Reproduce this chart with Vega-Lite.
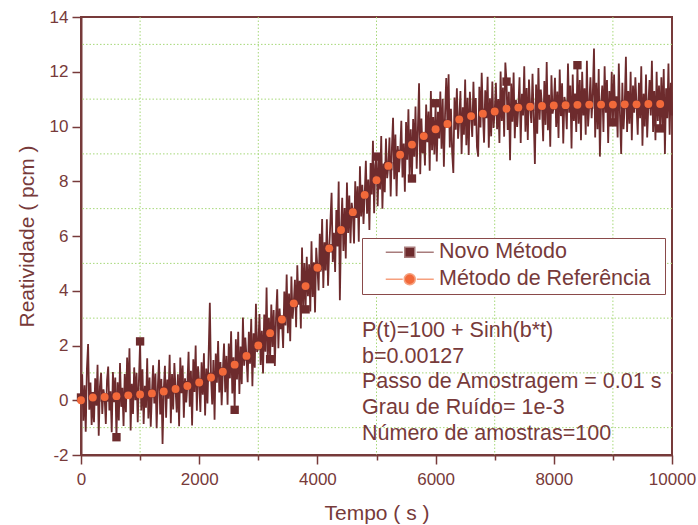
{
"$schema": "https://vega.github.io/schema/vega-lite/v6.json",
"width": 591, "height": 438,
"autosize": {"type": "none"},
"padding": {"left": 81, "top": 17, "right": 26, "bottom": 70},
"background": "white",
"config": {
  "font": "Liberation Sans",
  "view": {"stroke": "#773a3a", "strokeWidth": 2},
  "axis": {
    "domainColor": "#773a3a", "domainWidth": 2,
    "tickColor": "#773a3a", "tickWidth": 1.5,
    "labelColor": "#773a3a", "labelFontSize": 17, "labelFont": "Liberation Sans",
    "titleColor": "#773a3a", "titleFontSize": 21, "titleFontWeight": "normal", "titleFont": "Liberation Sans",
    "grid": false
  }
},
"datasets": {
"gx": [{"g":1000},{"g":3000},{"g":5000},{"g":7000},{"g":9000}],
"gy": [{"g":-1},{"g":1},{"g":3},{"g":5},{"g":7},{"g":9},{"g":11},{"g":13}],
"novo": [
{"t":0,"v":0.1},{"t":20,"v":0.95},{"t":40,"v":-0.75},{"t":60,"v":0.55},{"t":80,"v":-1.15},{"t":100,"v":1.15},{"t":120,"v":2.05},{"t":140,"v":-0.35},{"t":160,"v":0.65},{"t":180,"v":-0.9},
{"t":200,"v":0.15},{"t":220,"v":-0.8},{"t":240,"v":0.8},{"t":260,"v":-0.2},{"t":280,"v":1.3},{"t":300,"v":-1.3},{"t":320,"v":0.5},{"t":340,"v":1.0},{"t":360,"v":-0.5},{"t":380,"v":0.4},
{"t":400,"v":0.1},{"t":420,"v":-0.87},{"t":440,"v":0.73},{"t":460,"v":1.23},{"t":480,"v":-0.37},{"t":500,"v":0.33},{"t":520,"v":-1.17},{"t":540,"v":1.03},{"t":560,"v":-0.07},{"t":580,"v":0.83},
{"t":600,"v":-1.35},{"t":620,"v":0.66},{"t":640,"v":-0.74},{"t":660,"v":1.36},{"t":680,"v":-0.24},{"t":700,"v":0.46},{"t":720,"v":-0.94},{"t":740,"v":0.96},{"t":760,"v":-0.44},{"t":780,"v":1.56},
{"t":800,"v":0.2},{"t":820,"v":1.9},{"t":840,"v":-1.1},{"t":860,"v":0.6},{"t":880,"v":-0.5},{"t":900,"v":1.2},{"t":920,"v":0.0},{"t":940,"v":1.0},{"t":960,"v":-0.8},{"t":980,"v":0.7},
{"t":1000,"v":2.15},{"t":1020,"v":-0.37},{"t":1040,"v":1.13},{"t":1060,"v":-0.87},{"t":1080,"v":0.53},{"t":1100,"v":-0.27},{"t":1120,"v":1.53},{"t":1140,"v":-0.67},{"t":1160,"v":0.83},{"t":1180,"v":-0.97},
{"t":1200,"v":0.25},{"t":1220,"v":1.28},{"t":1240,"v":-0.12},{"t":1260,"v":0.98},{"t":1280,"v":-1.02},{"t":1300,"v":0.48},{"t":1320,"v":1.48},{"t":1340,"v":-0.52},{"t":1360,"v":0.78},{"t":1380,"v":-1.6},
{"t":1400,"v":0.35},{"t":1420,"v":1.26},{"t":1440,"v":-0.64},{"t":1460,"v":0.76},{"t":1480,"v":0.06},{"t":1500,"v":1.66},{"t":1520,"v":-0.84},{"t":1540,"v":0.96},{"t":1560,"v":-0.34},{"t":1580,"v":1.36},
{"t":1600,"v":0.4},{"t":1620,"v":-0.45},{"t":1640,"v":0.95},{"t":1660,"v":-0.95},{"t":1680,"v":1.56},{"t":1700,"v":0.26},{"t":1720,"v":1.27},{"t":1740,"v":-0.64},{"t":1760,"v":0.8},{"t":1780,"v":-0.08},
{"t":1800,"v":0.55},{"t":1820,"v":1.77},{"t":1840,"v":-0.24},{"t":1860,"v":1.08},{"t":1880,"v":-0.92},{"t":1900,"v":1.5},{"t":1920,"v":0.3},{"t":1940,"v":2.0},{"t":1960,"v":-0.38},{"t":1980,"v":1.24},
{"t":2000,"v":0.65},{"t":2020,"v":-0.43},{"t":2040,"v":1.39},{"t":2060,"v":0.2},{"t":2080,"v":1.72},{"t":2100,"v":-0.56},{"t":2120,"v":1.16},{"t":2140,"v":-0.12},{"t":2160,"v":1.69},{"t":2180,"v":3.56},
{"t":2200,"v":0.85},{"t":2220,"v":-0.15},{"t":2240,"v":1.47},{"t":2260,"v":-0.71},{"t":2280,"v":1.71},{"t":2300,"v":0.64},{"t":2320,"v":2.16},{"t":2340,"v":0.28},{"t":2360,"v":1.4},{"t":2380,"v":-0.18},
{"t":2400,"v":1.05},{"t":2420,"v":2.07},{"t":2440,"v":0.29},{"t":2460,"v":1.62},{"t":2480,"v":-0.16},{"t":2500,"v":2.07},{"t":2520,"v":0.8},{"t":2540,"v":2.52},{"t":2560,"v":0.25},{"t":2580,"v":1.57},
{"t":2600,"v":-0.35},{"t":2620,"v":2.23},{"t":2640,"v":0.76},{"t":2660,"v":2.5},{"t":2680,"v":0.23},{"t":2700,"v":1.96},{"t":2720,"v":0.59},{"t":2740,"v":3.02},{"t":2760,"v":1.26},{"t":2780,"v":2.29},
{"t":2800,"v":1.6},{"t":2820,"v":0.66},{"t":2840,"v":2.5},{"t":2860,"v":1.33},{"t":2880,"v":2.97},{"t":2900,"v":0.51},{"t":2920,"v":2.45},{"t":2940,"v":1.19},{"t":2960,"v":3.52},{"t":2980,"v":1.76},
{"t":3000,"v":2.0},{"t":3020,"v":3.15},{"t":3040,"v":1.29},{"t":3060,"v":2.54},{"t":3080,"v":0.98},{"t":3100,"v":3.13},{"t":3120,"v":1.77},{"t":3140,"v":4.12},{"t":3160,"v":1.36},{"t":3180,"v":3.01},
{"t":3200,"v":1.5},{"t":3220,"v":3.5},{"t":3240,"v":1.95},{"t":3260,"v":3.3},{"t":3280,"v":1.25},{"t":3300,"v":3.0},{"t":3320,"v":4.05},{"t":3340,"v":1.9},{"t":3360,"v":3.35},{"t":3380,"v":2.6},
{"t":3400,"v":2.95},{"t":3420,"v":1.91},{"t":3440,"v":3.97},{"t":3460,"v":2.73},{"t":3480,"v":4.59},{"t":3500,"v":2.45},{"t":3520,"v":3.9},{"t":3540,"v":2.16},{"t":3560,"v":4.52},{"t":3580,"v":2.98},
{"t":3600,"v":3.55},{"t":3620,"v":4.4},{"t":3640,"v":2.67},{"t":3660,"v":4.93},{"t":3680,"v":3.49},{"t":3700,"v":4.36},{"t":3720,"v":2.62},{"t":3740,"v":5.58},{"t":3760,"v":3.34},{"t":3780,"v":5.01},
{"t":3800,"v":3.32},{"t":3820,"v":5.24},{"t":3840,"v":3.8},{"t":3860,"v":4.97},{"t":3880,"v":3.24},{"t":3900,"v":5.81},{"t":3920,"v":3.77},{"t":3940,"v":5.04},{"t":3960,"v":3.21},{"t":3980,"v":5.57},
{"t":4000,"v":4.85},{"t":4020,"v":4.01},{"t":4040,"v":6.08},{"t":4060,"v":4.75},{"t":4080,"v":6.62},{"t":4100,"v":4.1},{"t":4120,"v":5.77},{"t":4140,"v":4.74},{"t":4160,"v":6.61},{"t":4180,"v":4.18},
{"t":4200,"v":5.55},{"t":4220,"v":6.52},{"t":4240,"v":7.58},{"t":4260,"v":5.05},{"t":4280,"v":6.12},{"t":4300,"v":4.69},{"t":4320,"v":6.95},{"t":4340,"v":5.62},{"t":4360,"v":7.99},{"t":4380,"v":3.65},
{"t":4400,"v":6.2},{"t":4420,"v":7.4},{"t":4440,"v":5.45},{"t":4460,"v":7.02},{"t":4480,"v":5.18},{"t":4500,"v":7.95},{"t":4520,"v":6.11},{"t":4540,"v":7.48},{"t":4560,"v":5.74},{"t":4580,"v":7.21},
{"t":4600,"v":6.85},{"t":4620,"v":5.73},{"t":4640,"v":8.0},{"t":4660,"v":6.66},{"t":4680,"v":7.82},{"t":4700,"v":5.79},{"t":4720,"v":8.55},{"t":4740,"v":6.71},{"t":4760,"v":7.87},{"t":4780,"v":6.44},
{"t":4800,"v":7.5},{"t":4820,"v":8.75},{"t":4840,"v":6.81},{"t":4860,"v":8.06},{"t":4880,"v":6.22},{"t":4900,"v":8.67},{"t":4920,"v":7.52},{"t":4940,"v":9.48},{"t":4960,"v":6.83},{"t":4980,"v":8.59},
{"t":5000,"v":8.9},{"t":5020,"v":7.09},{"t":5040,"v":8.84},{"t":5060,"v":7.7},{"t":5080,"v":9.65},{"t":5100,"v":7.0},{"t":5120,"v":8.65},{"t":5140,"v":7.6},{"t":5160,"v":9.56},{"t":5180,"v":8.11},
{"t":5200,"v":8.55},{"t":5220,"v":9.6},{"t":5240,"v":7.44},{"t":5260,"v":9.18},{"t":5280,"v":10.32},{"t":5300,"v":8.07},{"t":5320,"v":9.71},{"t":5340,"v":7.45},{"t":5360,"v":9.29},{"t":5380,"v":8.33},
{"t":5400,"v":9.0},{"t":5420,"v":10.21},{"t":5440,"v":8.14},{"t":5460,"v":9.38},{"t":5480,"v":7.62},{"t":5500,"v":10.16},{"t":5520,"v":8.79},{"t":5540,"v":10.63},{"t":5560,"v":8.17},{"t":5580,"v":9.9},
{"t":5600,"v":8.1},{"t":5620,"v":10.27},{"t":5640,"v":8.9},{"t":5660,"v":10.73},{"t":5680,"v":8.46},{"t":5700,"v":9.9},{"t":5720,"v":11.58},{"t":5740,"v":8.26},{"t":5760,"v":10.29},{"t":5780,"v":9.02},
{"t":5800,"v":9.65},{"t":5820,"v":8.58},{"t":5840,"v":10.8},{"t":5860,"v":9.43},{"t":5880,"v":10.55},{"t":5900,"v":8.38},{"t":5920,"v":11.3},{"t":5940,"v":9.13},{"t":5960,"v":10.35},{"t":5980,"v":8.98},
{"t":6000,"v":10.85},{"t":6020,"v":8.72},{"t":6040,"v":10.54},{"t":6060,"v":9.56},{"t":6080,"v":11.28},{"t":6100,"v":9.19},{"t":6120,"v":11.01},{"t":6140,"v":8.53},{"t":6160,"v":10.45},{"t":6180,"v":11.77},
{"t":6200,"v":10.1},{"t":6220,"v":11.91},{"t":6240,"v":9.23},{"t":6260,"v":10.65},{"t":6280,"v":9.06},{"t":6300,"v":8.3},{"t":6320,"v":11.06},{"t":6340,"v":9.88},{"t":6360,"v":11.4},{"t":6380,"v":9.55},
{"t":6400,"v":10.25},{"t":6420,"v":11.3},{"t":6440,"v":9.0},{"t":6460,"v":10.7},{"t":6480,"v":9.7},{"t":6500,"v":11.72},{"t":6520,"v":9.32},{"t":6540,"v":11.05},{"t":6560,"v":8.96},{"t":6580,"v":11.27},
{"t":6600,"v":10.4},{"t":6620,"v":9.62},{"t":6640,"v":11.63},{"t":6660,"v":10.03},{"t":6680,"v":11.04},{"t":6700,"v":9.24},{"t":6720,"v":8.9},{"t":6740,"v":11.45},{"t":6760,"v":9.96},{"t":6780,"v":11.96},
{"t":6800,"v":10.5},{"t":6820,"v":9.41},{"t":6840,"v":11.32},{"t":6860,"v":10.3},{"t":6880,"v":11.82},{"t":6900,"v":9.22},{"t":6920,"v":11.03},{"t":6940,"v":9.64},{"t":6960,"v":11.64},{"t":6980,"v":9.95},
{"t":7000,"v":10.55},{"t":7020,"v":11.6},{"t":7040,"v":9.9},{"t":7060,"v":11.0},{"t":7080,"v":9.4},{"t":7100,"v":12.01},{"t":7120,"v":10.2},{"t":7140,"v":11.42},{"t":7160,"v":9.63},{"t":7180,"v":12.34},
{"t":7200,"v":11.64},{"t":7220,"v":9.87},{"t":7240,"v":11.27},{"t":7260,"v":8.77},{"t":7280,"v":11.57},{"t":7300,"v":10.17},{"t":7320,"v":11.97},{"t":7340,"v":9.57},{"t":7360,"v":10.98},{"t":7380,"v":9.98},
{"t":7400,"v":10.7},{"t":7420,"v":11.8},{"t":7440,"v":9.4},{"t":7460,"v":11.2},{"t":7480,"v":10.4},{"t":7500,"v":12.2},{"t":7520,"v":9.81},{"t":7540,"v":11.41},{"t":7560,"v":9.51},{"t":7580,"v":11.72},
{"t":7600,"v":10.72},{"t":7620,"v":10.13},{"t":7640,"v":11.93},{"t":7660,"v":10.33},{"t":7680,"v":8.63},{"t":7700,"v":11.53},{"t":7720,"v":9.74},{"t":7740,"v":12.14},{"t":7760,"v":10.25},{"t":7780,"v":11.35},
{"t":7800,"v":10.75},{"t":7820,"v":9.46},{"t":7840,"v":11.66},{"t":7860,"v":10.06},{"t":7880,"v":12.36},{"t":7900,"v":9.86},{"t":7920,"v":11.16},{"t":7940,"v":9.26},{"t":7960,"v":11.87},{"t":7980,"v":10.47},
{"t":8000,"v":10.77},{"t":8020,"v":11.78},{"t":8040,"v":9.98},{"t":8060,"v":11.28},{"t":8080,"v":9.58},{"t":8100,"v":12.08},{"t":8120,"v":10.38},{"t":8140,"v":11.58},{"t":8160,"v":9.38},{"t":8180,"v":11.08},
{"t":8200,"v":10.8},{"t":8220,"v":9.9},{"t":8240,"v":12.3},{"t":8260,"v":10.5},{"t":8280,"v":11.5},{"t":8300,"v":9.2},{"t":8320,"v":11.9},{"t":8340,"v":10.2},{"t":8360,"v":11.2},{"t":8380,"v":9.8},
{"t":8400,"v":12.24},{"t":8420,"v":10.1},{"t":8440,"v":11.7},{"t":8460,"v":9.5},{"t":8480,"v":12.0},{"t":8500,"v":10.4},{"t":8520,"v":11.4},{"t":8540,"v":9.7},{"t":8560,"v":12.4},{"t":8580,"v":10.0},
{"t":8600,"v":10.8},{"t":8620,"v":11.8},{"t":8640,"v":10.3},{"t":8660,"v":11.2},{"t":8680,"v":12.85},{"t":8700,"v":9.6},{"t":8720,"v":11.6},{"t":8740,"v":9.9},{"t":8760,"v":12.1},{"t":8780,"v":8.9},
{"t":8800,"v":10.8},{"t":8820,"v":11.5},{"t":8840,"v":9.8},{"t":8860,"v":12.2},{"t":8880,"v":10.5},{"t":8900,"v":11.7},{"t":8920,"v":9.4},{"t":8940,"v":11.3},{"t":8960,"v":10.1},{"t":8980,"v":12.0},
{"t":9000,"v":10.15},{"t":9020,"v":11.9},{"t":9040,"v":10.2},{"t":9060,"v":11.1},{"t":9080,"v":9.6},{"t":9100,"v":12.3},{"t":9120,"v":10.4},{"t":9140,"v":9.0},{"t":9160,"v":11.6},{"t":9180,"v":9.9},
{"t":9200,"v":10.8},{"t":9220,"v":12.55},{"t":9240,"v":9.8},{"t":9260,"v":11.3},{"t":9280,"v":10.1},{"t":9300,"v":12.0},{"t":9320,"v":9.5},{"t":9340,"v":11.5},{"t":9360,"v":10.5},{"t":9380,"v":11.8},
{"t":9400,"v":10.8},{"t":9420,"v":9.7},{"t":9440,"v":11.6},{"t":9460,"v":10.3},{"t":9480,"v":12.2},{"t":9500,"v":9.3},{"t":9520,"v":11.2},{"t":9540,"v":10.0},{"t":9560,"v":11.9},{"t":9580,"v":9.6},
{"t":9600,"v":10.8},{"t":9620,"v":11.7},{"t":9640,"v":10.4},{"t":9660,"v":12.4},{"t":9680,"v":9.8},{"t":9700,"v":11.3},{"t":9720,"v":9.5},{"t":9740,"v":12.0},{"t":9760,"v":10.2},{"t":9780,"v":11.5},
{"t":9800,"v":9.93},{"t":9820,"v":11.8},{"t":9840,"v":9.9},{"t":9860,"v":12.1},{"t":9880,"v":9.0},{"t":9900,"v":11.4},{"t":9920,"v":10.3},{"t":9940,"v":12.3},{"t":9960,"v":9.7},{"t":9980,"v":11.6},
{"t":10000,"v":10.4}
],
"ref": [
{"t":0,"v":0.0},{"t":200,"v":0.1},{"t":400,"v":0.12},{"t":600,"v":0.15},{"t":800,"v":0.18},{"t":1000,"v":0.21},{"t":1200,"v":0.25},{"t":1400,"v":0.32},{"t":1600,"v":0.41},{"t":1800,"v":0.52},
{"t":2000,"v":0.65},{"t":2200,"v":0.83},{"t":2400,"v":1.04},{"t":2600,"v":1.3},{"t":2800,"v":1.62},{"t":3000,"v":2.0},{"t":3200,"v":2.45},{"t":3400,"v":2.95},{"t":3600,"v":3.54},{"t":3800,"v":4.17},
{"t":4000,"v":4.84},{"t":4200,"v":5.55},{"t":4400,"v":6.22},{"t":4600,"v":6.87},{"t":4800,"v":7.5},{"t":5000,"v":8.04},{"t":5200,"v":8.56},{"t":5400,"v":8.97},{"t":5600,"v":9.34},{"t":5800,"v":9.65},
{"t":6000,"v":9.9},{"t":6200,"v":10.09},{"t":6400,"v":10.26},{"t":6600,"v":10.38},{"t":6800,"v":10.47},{"t":7000,"v":10.55},{"t":7200,"v":10.65},{"t":7400,"v":10.69},{"t":7600,"v":10.72},{"t":7800,"v":10.75},
{"t":8000,"v":10.77},{"t":8200,"v":10.78},{"t":8400,"v":10.79},{"t":8600,"v":10.8},{"t":8800,"v":10.8},{"t":9000,"v":10.8},{"t":9200,"v":10.81},{"t":9400,"v":10.81},{"t":9600,"v":10.82},{"t":9800,"v":10.82}
]
},
"layer": [
  {"data": {"name": "gx"},
   "mark": {"type": "rule", "color": "#a6d878", "strokeWidth": 1, "strokeDash": [1.5, 2]},
   "encoding": {"x": {"field": "g", "type": "quantitative", "title": "Tempo ( s )"}}},
  {"data": {"name": "gy"},
   "mark": {"type": "rule", "color": "#a6d878", "strokeWidth": 1, "strokeDash": [1.5, 2]},
   "encoding": {"y": {"field": "g", "type": "quantitative", "title": "Reatividade ( pcm )"}}},
  {"data": {"name": "novo"},
   "mark": {"type": "line", "color": "#6d2b2d", "strokeWidth": 1.8},
   "encoding": {
  "x": {"field": "t", "type": "quantitative",
    "scale": {"domain": [0, 10000], "nice": false, "zero": false},
    "axis": {"title": "Tempo ( s )", "values": [0,1000,2000,3000,4000,5000,6000,7000,8000,9000,10000],
      "format": "d", "labelExpr": "datum.value % 2000 == 0 ? datum.label : ''",
      "labelFlush": false, "labelOverlap": false, "labelPadding": 7, "titlePadding": 15, "grid": false,
      "tickSize": {"condition": {"test": "datum.value % 2000 == 0", "value": 9}, "value": 5}}},
  "y": {"field": "v", "type": "quantitative",
    "scale": {"domain": [-2, 14], "nice": false, "zero": false},
    "axis": {"title": "Reatividade ( pcm )", "values": [-2,-1,0,1,2,3,4,5,6,7,8,9,10,11,12,13,14],
      "labelExpr": "datum.value % 2 == 0 ? '' + datum.value : ''",
      "labelOverlap": false, "labelPadding": 4, "titlePadding": 12, "grid": false,
      "tickSize": {"condition": {"test": "datum.value % 2 == 0", "value": 9}, "value": 5}}}
   }},
  {"data": {"name": "novo"},
   "transform": [{"filter": "datum.t % 200 == 0 && datum.t < 10000"}],
   "mark": {"type": "point", "shape": "square", "filled": true, "size": 70, "opacity": 1, "color": "#6d2b2d"},
   "encoding": {
     "x": {"field": "t", "type": "quantitative", "title": "Tempo ( s )"},
     "y": {"field": "v", "type": "quantitative", "title": "Reatividade ( pcm )"}}},
  {"data": {"name": "ref"},
   "mark": {"type": "point", "shape": "circle", "filled": true, "size": 62, "opacity": 1, "color": "#f2693a"},
   "encoding": {
     "x": {"field": "t", "type": "quantitative", "title": "Tempo ( s )"},
     "y": {"field": "v", "type": "quantitative", "title": "Reatividade ( pcm )"}}},
  {"data": {"values": []},
   "mark": {"type": "point", "filled": true},
   "encoding": {
     "color": {"datum": "Novo Método", "type": "nominal",
       "scale": {"domain": ["Novo Método", "Método de Referência"], "range": ["#6d2b2d", "#f2693a"]},
       "legend": {"title": "\u00a0", "titleOrient": "right", "titlePadding": 11, "titleFontSize": 21, "titleColor": "#773a3a",
         "orient": "none", "legendX": 281, "legendY": 221, "direction": "vertical",
         "strokeColor": "#8a4a4a", "fillColor": "white", "padding": 3.5,
         "labelFontSize": 21.5, "labelColor": "#773a3a", "labelFont": "Liberation Sans", "labelLimit": 400,
         "symbolSize": 100, "symbolStrokeWidth": 1.5, "symbolOpacity": 1, "symbolOffset": 33.5, "labelOffset": 18.5, "rowPadding": 4}},
     "shape": {"datum": "Novo Método", "type": "nominal",
       "scale": {"domain": ["Novo Método", "Método de Referência"], "range": ["M-4.8,0H-1.4M-1,-1H1V1H-1ZM1.4,0H4.8", "M-4.8,0H-1.4M-1.1,0A1.1,1.1,0,1,0,1.1,0A1.1,1.1,0,1,0,-1.1,0ZM1.4,0H4.8"]}},
     "stroke": {"datum": "Novo Método", "type": "nominal",
       "scale": {"domain": ["Novo Método", "Método de Referência"], "range": ["#a87c7c", "#f6a07e"]}}}},
  {"data": {"values": []},
   "mark": {"type": "point", "filled": true},
   "encoding": {
     "color": {"datum": "Método de Referência", "type": "nominal"},
     "shape": {"datum": "Método de Referência", "type": "nominal"},
     "stroke": {"datum": "Método de Referência", "type": "nominal"}}},
  {"data": {"values": [{"note": "annotation"}]},
   "mark": {"type": "text", "align": "left", "baseline": "alphabetic", "fontSize": 21.5, "font": "Liberation Sans", "color": "#773a3a", "lineHeight": 25.7},
   "encoding": {
     "x": {"datum": 4755, "type": "quantitative"},
     "y": {"datum": 2.31, "type": "quantitative"},
     "text": {"value": ["P(t)=100 + Sinh(b*t)", "b=0.00127", "Passo de Amostragem = 0.01 s", "Grau de Ruído= 1e-3", "Número de amostras=100"]}}}
]
}
